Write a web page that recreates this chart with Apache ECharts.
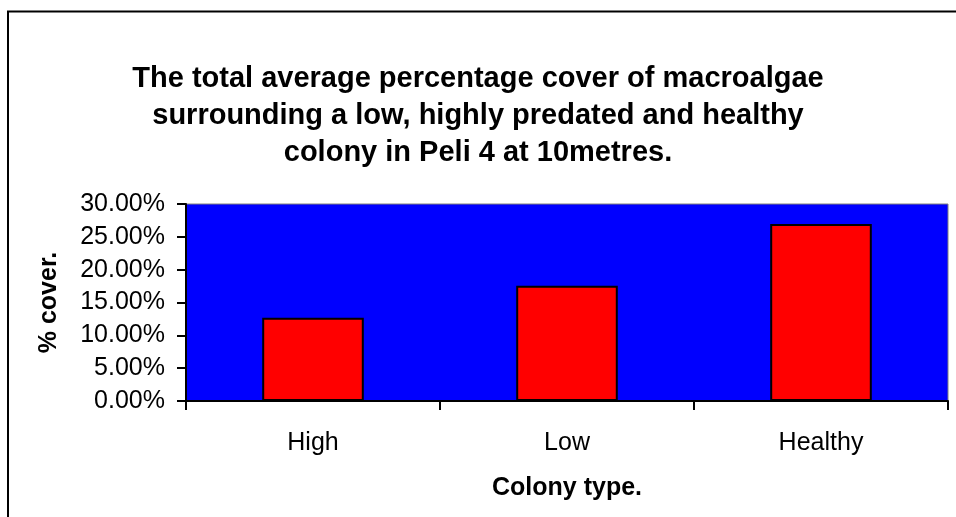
<!DOCTYPE html>
<html>
<head>
<meta charset="utf-8">
<script src="https://cdn.jsdelivr.net/npm/echarts@6/dist/echarts.min.js"></script>
<style>
html,body{margin:0;padding:0;background:#fff;}
#chart{width:956px;height:517px;}
</style>
</head>
<body>
<div id="chart"></div>
<script>
var titleText = 'The total average percentage cover of macroalgae\nsurrounding a low, highly predated and healthy\ncolony in Peli 4 at 10metres.';
var categories = ['High', 'Low', 'Healthy'];
var coverValues = [0.1268, 0.1756, 0.2695];
var yTicks = [0, 0.05, 0.10, 0.15, 0.20, 0.25, 0.30];
var xAxisName = 'Colony type.';
var yAxisName = '% cover.';

var FONT = 'Arial, "Liberation Sans", sans-serif';
var chart = echarts.init(document.getElementById('chart'), null, {renderer: 'canvas'});
chart.setOption({
  animation: false,
  backgroundColor: '#ffffff',
  title: {
    text: titleText,
    left: 'center',
    top: 55,
    textStyle: {fontFamily: FONT, fontSize: 29, fontWeight: 'bold', color: '#000', lineHeight: 37}
  },
  graphic: [{
    type: 'rect', z: 100, silent: true,
    shape: {x: 8, y: 11.5, width: 960, height: 520},
    style: {fill: 'none', stroke: '#000', lineWidth: 2}
  }],
  grid: {
    left: 186, top: 204, right: 8, bottom: 116,
    show: true, backgroundColor: '#0000ff', borderColor: '#808080', borderWidth: 1
  },
  xAxis: {
    type: 'category',
    data: categories,
    name: xAxisName,
    nameLocation: 'middle',
    nameGap: 75,
    nameTextStyle: {fontFamily: FONT, fontSize: 25, fontWeight: 'bold', color: '#000', lineHeight: 25},
    axisLine: {lineStyle: {color: '#000', width: 2}},
    axisTick: {show: true, alignWithLabel: false, length: 9, lineStyle: {color: '#000', width: 2}},
    axisLabel: {fontFamily: FONT, fontSize: 25, color: '#000', margin: 30, lineHeight: 25},
    splitLine: {show: false}
  },
  yAxis: {
    type: 'value',
    min: yTicks[0],
    max: yTicks[yTicks.length - 1],
    interval: yTicks[1] - yTicks[0],
    name: yAxisName,
    nameLocation: 'middle',
    nameGap: 124,
    nameTextStyle: {fontFamily: FONT, fontSize: 25, fontWeight: 'bold', color: '#000'},
    axisLine: {show: true, lineStyle: {color: '#000', width: 2}},
    axisTick: {show: true, length: 9, lineStyle: {color: '#000', width: 2}},
    axisLabel: {
      fontFamily: FONT, fontSize: 25, color: '#000', margin: 21,
      formatter: function (v) { return (v * 100).toFixed(2) + '%'; }
    },
    splitLine: {show: false}
  },
  series: [{
    type: 'bar',
    data: coverValues,
    barWidth: '40%',
    itemStyle: {color: '#ff0000', borderColor: '#000', borderWidth: 2}
  }]
});
</script>
</body>
</html>
